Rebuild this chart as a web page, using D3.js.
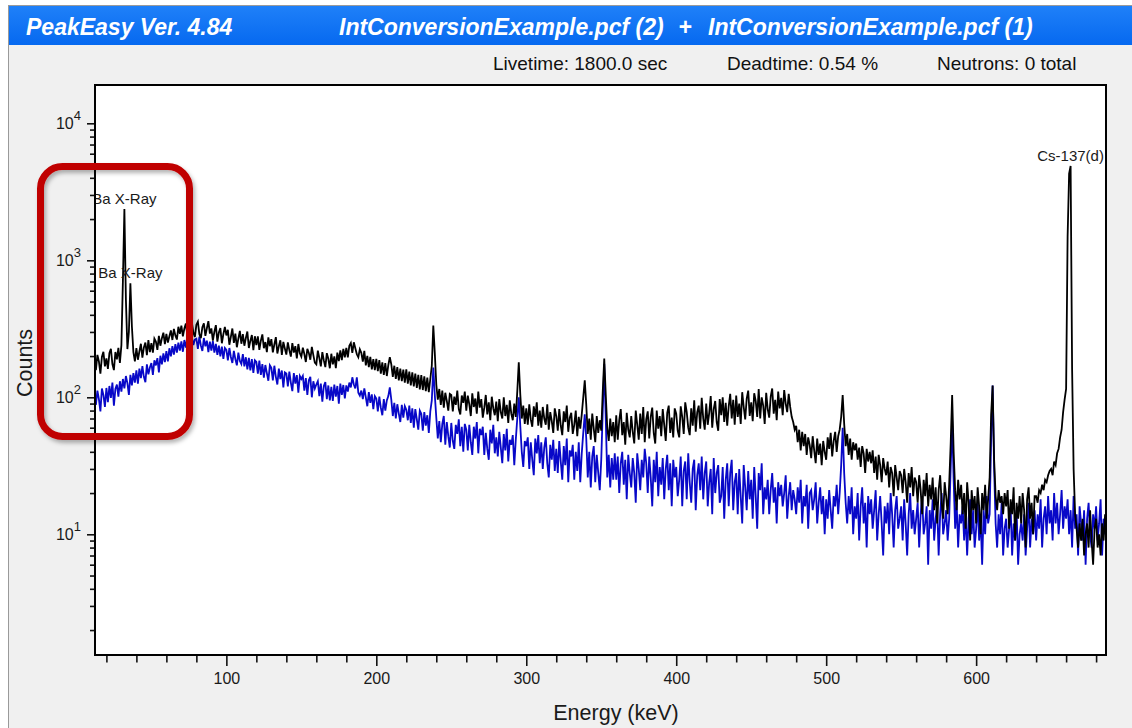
<!DOCTYPE html>
<html>
<head>
<meta charset="utf-8">
<script src="https://cdn.jsdelivr.net/npm/d3@7"></script>
<style>
  html, body { margin: 0; padding: 0; background: #ffffff; }
  svg { display: block; font-family: Arial, "Liberation Sans", sans-serif; }
</style>
</head>
<body>
<svg id="chart" width="1132" height="728"></svg>
<script>
// ---- Spectrum data: one value per 1 keV channel, first channel at 13 keV ----
const firstChannelKeV = 13;

// Spectrum (2): black trace
const blackCounts = [
  158, 204, 183, 149, 197, 215, 168,
  192, 161, 210, 226, 175, 158, 214, 189, 230, 178,
  240, 700, 2370, 520, 225, 300, 680, 330, 214, 183,
  229, 188, 216, 246, 195, 231, 251, 203, 262, 214,
  249, 212, 268, 255, 222, 281, 238, 270, 296, 244,
  290, 251, 279, 308, 262, 316, 283, 264, 327, 291,
  334, 279, 318, 345, 283, 266, 330, 352, 297, 276,
  338, 356, 289, 270, 325, 347, 281, 319, 360, 292,
  318, 259, 301, 336, 255, 297, 320, 248, 289, 327,
  283, 311, 242, 276, 318, 250, 292, 232, 268, 305,
  246, 289, 238, 271, 302, 229, 258, 285, 221, 279,
  240, 278, 222, 259, 288, 228, 253, 214, 274, 236,
  266, 213, 243, 275, 209, 236, 261, 204, 254, 227,
  205, 252, 221, 198, 249, 212, 236, 192, 245, 210,
  198, 230, 207, 181, 226, 211, 188, 233, 203, 179,
  174, 219, 193, 168, 214, 186, 166, 210, 191, 163,
  208, 174, 199, 163, 212, 184, 220, 187, 226, 196,
  229, 196, 238, 249, 211, 252, 228, 206, 196, 224,
  211, 182, 218, 171, 201, 166, 197, 160, 190, 158,
  191, 155, 187, 149, 180, 146, 178, 143, 172, 196,
  174, 141, 170, 136, 166, 133, 162, 131, 159, 128,
  160, 126, 154, 122, 152, 120, 149, 117, 146, 114,
  145, 113, 142, 111, 139, 109, 136, 170, 334, 210,
  124, 96, 115, 88, 112, 84, 108, 94, 80, 106,
  104, 79, 101, 88, 112, 82, 75, 103, 91, 110,
  80, 103, 89, 73, 107, 85, 98, 76, 110, 84,
  97, 71, 84, 104, 75, 92, 68, 101, 83, 74,
  93, 67, 97, 78, 70, 100, 73, 88, 65, 95,
  76, 68, 90, 72, 110, 180, 105, 70, 87, 64,
  83, 63, 89, 69, 61, 86, 72, 92, 62, 80,
  60, 85, 70, 63, 89, 58, 78, 67, 55, 83,
  73, 57, 82, 62, 53, 79, 66, 87, 56, 71,
  77, 54, 63, 80, 52, 72, 59, 75, 100, 133,
  88, 54, 70, 49, 76, 59, 47, 73, 55, 68,
  57, 110, 192, 105, 60, 48, 70, 52, 66, 47,
  74, 49, 68, 82, 53, 66, 45, 77, 58, 51,
  73, 56, 46, 80, 63, 49, 76, 54, 85, 47,
  69, 79, 50, 72, 84, 55, 46, 80, 59, 73,
  52, 82, 63, 48, 77, 87, 55, 71, 51, 83,
  76, 57, 51, 86, 72, 54, 92, 78, 60, 53,
  83, 62, 95, 56, 78, 87, 59, 99, 70, 58,
  90, 63, 77, 102, 60, 82, 94, 66, 57, 97,
  74, 100, 66, 91, 62, 86, 106, 70, 96, 63,
  103, 72, 90, 64, 109, 85, 69, 98, 112, 73,
  92, 67, 107, 94, 72, 115, 70, 100, 87, 64,
  108, 82, 71, 101, 116, 76, 96, 68, 110, 83,
  99, 74, 113, 90, 78, 106, 85, 72, 66, 58,
  62, 47, 58, 41, 56, 44, 54, 38, 51, 45,
  36, 52, 41, 33, 50, 38, 46, 32, 48, 40,
  35, 51, 42, 55, 37, 48, 56, 40, 52, 58,
  72, 104, 64, 44, 54, 38, 50, 35, 47, 41,
  46, 35, 43, 31, 44, 39, 28, 42, 34, 40,
  33, 41, 28, 37, 25, 38, 32, 24, 36, 30,
  27, 34, 22, 31, 28, 19, 32, 26, 21, 29,
  27, 20, 30, 24, 17, 28, 22, 31, 19, 26,
  24, 17, 27, 21, 14, 25, 19, 28, 16, 23,
  18, 26, 15, 22, 12, 21, 27, 17, 13, 24,
  19, 14, 23, 45, 104, 40, 21, 15, 25, 18,
  23, 14, 20, 11, 24, 17, 9, 21, 15, 19,
  12, 22, 16, 10, 20, 15, 23, 13, 18, 26,
  75, 122, 35, 19, 15, 21, 17, 19, 14, 20,
  16, 21, 11, 18, 14, 22, 9, 17, 13, 19,
  12, 20, 15, 8, 18, 22, 13, 17, 10, 19,
  19, 17, 21, 20, 23, 21, 25, 24, 27, 29,
  30, 27, 34, 32, 39, 42, 51, 58, 78, 96,
  115, 1500, 4300, 4880, 160, 30, 14, 11, 8, 12,
  9, 13, 7, 10, 12, 8, 15, 9, 6, 11,
  13, 8, 10, 7, 12, 9, 14
];

// Spectrum (1): blue trace
const blueCounts = [
  88, 112, 97, 79, 116, 104, 85,
  117, 92, 121, 99, 128, 87, 115, 124, 101, 131,
  110, 136, 116, 143, 127, 104, 146, 122, 150, 128,
  157, 126, 162, 138, 169, 141, 129, 174, 147, 165,
  178, 146, 186, 171, 193, 152, 201, 174, 209, 181,
  217, 183, 228, 199, 236, 205, 244, 212, 251, 219,
  256, 215, 262, 231, 271, 238, 219, 275, 241, 264,
  268, 226, 277, 239, 218, 271, 236, 259, 214, 255,
  219, 257, 212, 245, 204, 238, 199, 234, 191, 229,
  222, 186, 229, 197, 178, 218, 190, 171, 212, 184,
  175, 207, 168, 196, 160, 194, 157, 190, 151, 186,
  181, 149, 185, 146, 175, 139, 172, 150, 132, 171,
  164, 133, 170, 141, 124, 162, 136, 157, 118, 152,
  149, 120, 154, 128, 111, 150, 126, 145, 108, 143,
  136, 143, 112, 138, 104, 133, 141, 100, 131, 116,
  124, 131, 102, 126, 93, 121, 129, 97, 122, 95,
  119, 94, 124, 101, 121, 90, 126, 104, 123, 98,
  122, 110, 128, 118, 140, 124, 116, 140, 108, 103,
  112, 97, 116, 100, 86, 109, 91, 105, 82, 102,
  98, 79, 101, 84, 74, 97, 80, 95, 102, 118,
  96, 73, 91, 70, 89, 76, 66, 88, 71, 86,
  81, 68, 87, 65, 83, 60, 82, 69, 58, 80,
  76, 57, 78, 62, 74, 55, 79, 95, 165, 104,
  71, 50, 67, 47, 64, 73, 45, 66, 52, 43,
  65, 48, 42, 63, 54, 69, 44, 61, 40, 64,
  58, 41, 63, 47, 38, 61, 50, 66, 39, 59,
  53, 61, 38, 55, 42, 35, 58, 46, 63, 39,
  51, 37, 56, 43, 33, 54, 41, 59, 34, 49,
  45, 53, 32, 49, 70, 100, 62, 40, 31, 48,
  44, 51, 30, 47, 35, 27, 50, 39, 53, 33,
  47, 30, 43, 51, 33, 26, 45, 35, 49, 29,
  42, 28, 48, 34, 25, 44, 32, 50, 24, 41,
  37, 45, 25, 40, 29, 47, 24, 39, 55, 75,
  50, 26, 40, 22, 37, 44, 24, 38, 28, 21,
  35, 80, 175, 70, 26, 38, 22, 36, 25, 39,
  25, 37, 20, 33, 40, 23, 35, 18, 38, 28,
  22, 36, 28, 17, 39, 30, 21, 35, 26, 42,
  33, 20, 37, 26, 16, 35, 24, 40, 19, 31,
  23, 36, 18, 30, 38, 21, 33, 16, 35, 26,
  31, 19, 25, 37, 16, 29, 34, 18, 39, 24,
  17, 30, 35, 15, 27, 33, 21, 37, 18, 28,
  34, 16, 24, 30, 14, 36, 20, 28, 32, 17,
  19, 31, 13, 25, 33, 16, 28, 35, 15, 24,
  28, 14, 30, 19, 12, 32, 22, 15, 29, 18,
  25, 13, 31, 19, 11, 28, 21, 33, 14, 22,
  18, 25, 14, 21, 28, 17, 22, 12, 24, 19,
  23, 16, 20, 27, 13, 19, 24, 15, 21, 18,
  14, 22, 17, 25, 12, 19, 16, 23, 11, 20,
  21, 15, 18, 24, 12, 17, 22, 14, 19, 10,
  18, 13, 21, 15, 11, 19, 16, 23, 14, 20,
  32, 60, 28, 17, 12, 19, 14, 22, 10, 16,
  13, 20, 9, 16, 22, 12, 17, 8, 19, 14,
  18, 11, 15, 21, 9, 14, 19, 12, 7, 16,
  12, 17, 10, 20, 14, 8, 15, 19, 11, 13,
  16, 9, 18, 12, 7, 14, 20, 11, 15, 10,
  13, 17, 8, 14, 19, 10, 12, 16, 6, 15,
  11, 18, 9, 13, 16, 7, 14, 20, 10, 12,
  15, 9, 13, 30, 68, 25, 11, 17, 8, 14,
  12, 16, 9, 14, 7, 13, 18, 10, 15, 8,
  11, 17, 9, 13, 6, 15, 10, 19, 12, 14,
  50, 122, 30, 12, 8, 14, 10, 17, 7, 11,
  13, 8, 11, 16, 7, 12, 9, 15, 6, 10,
  12, 9, 14, 7, 11, 17, 8, 13, 10, 15,
  9, 14, 11, 18, 8, 13, 16, 10, 19, 12,
  15, 9, 20, 12, 17, 10, 14, 21, 11, 16,
  13, 18, 10, 15, 8, 19, 11, 14, 7, 16,
  12, 9, 15, 6, 13, 17, 10, 8, 14, 11,
  16, 9, 12, 18, 7, 13, 10
];

// Peak identification labels (energy in keV of the labelled channel)
const peakLabelTexts = ["Ba X-Ray", "Ba X-Ray", "Cs-137(d)"];
const peakLabelEnergies = [32, 36, 663];

// Axis ticks
const xMajorTicks = [100, 200, 300, 400, 500, 600];
const xMinorTicks = [20, 40, 60, 80, 120, 140, 160, 180, 220, 240, 260, 280, 320, 340, 360, 380,
                     420, 440, 460, 480, 520, 540, 560, 580, 620, 640, 660, 680];
const yMajorExponents = [1, 2, 3, 4];

// Header texts
const appTitle = "PeakEasy Ver. 4.84";
const fileTitles = ["IntConversionExample.pcf (2)", "+", "IntConversionExample.pcf (1)"];
const infoTexts = ["Livetime: 1800.0 sec", "Deadtime: 0.54 %", "Neutrons: 0 total"];

// ---- Layout ----
const W = 1132, H = 728;
const plot = { left: 95, right: 1106, top: 85, bottom: 655 };

const svg = d3.select("#chart");

// window frame and panel
svg.append("rect").attr("x", 8).attr("y", 5).attr("width", W - 8).attr("height", H - 5)
  .attr("fill", "#f0f0f0");
svg.append("line").attr("x1", 8).attr("x2", W).attr("y1", 5.5).attr("y2", 5.5)
  .attr("stroke", "#9a9a9a").attr("stroke-width", 1);
svg.append("line").attr("x1", 8.5).attr("x2", 8.5).attr("y1", 5).attr("y2", H)
  .attr("stroke", "#9a9a9a").attr("stroke-width", 1);

// title bar
const defs = svg.append("defs");
const grad = defs.append("linearGradient").attr("id", "titleGrad")
  .attr("x1", 0).attr("x2", 0).attr("y1", 0).attr("y2", 1);
grad.append("stop").attr("offset", "0%").attr("stop-color", "#1f80f8");
grad.append("stop").attr("offset", "100%").attr("stop-color", "#0669f0");
svg.append("rect").attr("x", 9).attr("y", 6).attr("width", W - 9).attr("height", 39)
  .attr("fill", "url(#titleGrad)");

const titleStyle = sel => sel.attr("fill", "#ffffff").attr("font-size", 23)
  .attr("font-weight", "bold").attr("font-style", "italic");
svg.append("text").attr("x", 26).attr("y", 35).text(appTitle).call(titleStyle);
svg.append("text").attr("x", 339).attr("y", 35).text(fileTitles[0]).call(titleStyle);
svg.append("text").attr("x", 685).attr("y", 35).attr("text-anchor", "middle").text(fileTitles[1]).call(titleStyle);
svg.append("text").attr("x", 708).attr("y", 35).text(fileTitles[2]).call(titleStyle);

// info line
const infoX = [493, 727, 937];
infoTexts.forEach((t, i) => {
  svg.append("text").attr("x", infoX[i]).attr("y", 70).attr("font-size", 19)
    .attr("fill", "#111").text(t);
});

// ---- Scales ----
const x = d3.scaleLinear().domain([12.4, 686.6]).range([plot.left, plot.right]);
const y = d3.scaleLog().domain([1.315, 19040]).range([plot.bottom, plot.top]);

// plot background
svg.append("rect").attr("x", plot.left).attr("y", plot.top)
  .attr("width", plot.right - plot.left).attr("height", plot.bottom - plot.top)
  .attr("fill", "#ffffff");

defs.append("clipPath").attr("id", "plotClip").append("rect")
  .attr("x", plot.left).attr("y", plot.top)
  .attr("width", plot.right - plot.left).attr("height", plot.bottom - plot.top);

const toPoints = arr => arr.map((c, i) => ({ e: firstChannelKeV + i, c }));
const blackData = toPoints(blackCounts);
const blueData = toPoints(blueCounts);

const line = d3.line().x(d => x(d.e)).y(d => y(d.c));

const traces = svg.append("g").attr("clip-path", "url(#plotClip)");
traces.append("path").datum(blueData).attr("d", line)
  .attr("fill", "none").attr("stroke", "#0808c8").attr("stroke-width", 1.8)
  .attr("stroke-linejoin", "miter");
traces.append("path").datum(blackData).attr("d", line)
  .attr("fill", "none").attr("stroke", "#000000").attr("stroke-width", 1.8)
  .attr("stroke-linejoin", "miter");

// peak labels
peakLabelTexts.forEach((t, i) => {
  const e = peakLabelEnergies[i];
  const c = blackCounts[e - firstChannelKeV];
  traces.append("text").attr("x", x(e)).attr("y", y(c) - 5)
    .attr("text-anchor", "middle").attr("font-size", 15).attr("fill", "#1a1a1a").text(t);
});

// ---- Axes ----
const axisColor = "#111";
const xAxisMajor = svg.append("g").attr("transform", `translate(0,${plot.bottom})`)
  .call(d3.axisBottom(x).tickValues(xMajorTicks).tickSize(11).tickPadding(6).tickFormat(d3.format("d")));
const xAxisMinor = svg.append("g").attr("transform", `translate(0,${plot.bottom})`)
  .call(d3.axisBottom(x).tickValues(xMinorTicks).tickSize(7.5).tickFormat(""));

const yMinorTicks = [];
yMajorExponents.concat([0]).forEach(k => {
  for (let m = 2; m <= 9; m++) {
    const v = m * Math.pow(10, k);
    if (v > y.domain()[0] && v < y.domain()[1]) yMinorTicks.push(v);
  }
});
const yMajorTicks = yMajorExponents.map(k => Math.pow(10, k));
const yAxisMajor = svg.append("g").attr("transform", `translate(${plot.left},0)`)
  .call(d3.axisLeft(y).tickValues(yMajorTicks).tickSize(8).tickFormat(""));
const yAxisMinor = svg.append("g").attr("transform", `translate(${plot.left},0)`)
  .call(d3.axisLeft(y).tickValues(yMinorTicks).tickSize(5).tickFormat(""));

[xAxisMajor, xAxisMinor, yAxisMajor, yAxisMinor].forEach(g => {
  g.select(".domain").remove();
  g.selectAll(".tick line").attr("stroke", axisColor).attr("stroke-width", 1.6);
  g.selectAll(".tick text").attr("fill", "#1a1a1a").attr("font-size", 16)
    .attr("font-family", "Arial, 'Liberation Sans', sans-serif");
});
xAxisMajor.selectAll(".tick text").attr("dy", null).attr("y", 29);

// y tick labels as powers of ten
yMajorExponents.forEach(k => {
  const t = svg.append("text").attr("x", 81).attr("y", y(Math.pow(10, k)) + 5.5)
    .attr("text-anchor", "end").attr("fill", "#1a1a1a").attr("font-size", 16);
  t.append("tspan").text("10");
  t.append("tspan").attr("dy", -9).attr("font-size", 13).text(String(k));
});

// plot frame
svg.append("rect").attr("x", plot.left).attr("y", plot.top)
  .attr("width", plot.right - plot.left).attr("height", plot.bottom - plot.top)
  .attr("fill", "none").attr("stroke", "#000").attr("stroke-width", 2);

// axis titles
svg.append("text").attr("x", 616).attr("y", 720).attr("text-anchor", "middle")
  .attr("font-size", 21.5).attr("fill", "#1a1a1a").text("Energy (keV)");
svg.append("text").attr("transform", "translate(31.5,363) rotate(-90)")
  .attr("text-anchor", "middle").attr("font-size", 21.5).attr("fill", "#1a1a1a").text("Counts");

// highlight box around the low-energy region
const shadow = defs.append("filter").attr("id", "boxShadow")
  .attr("x", "-10%").attr("y", "-10%").attr("width", "130%").attr("height", "130%");
shadow.append("feDropShadow").attr("dx", 2).attr("dy", 3).attr("stdDeviation", 2)
  .attr("flood-color", "#000").attr("flood-opacity", 0.3);
svg.append("rect").attr("x", 40.5).attr("y", 166.5).attr("width", 149).attr("height", 270)
  .attr("rx", 22).attr("ry", 22).attr("fill", "none")
  .attr("stroke", "#c00000").attr("stroke-width", 7).attr("filter", "url(#boxShadow)");
</script>
</body>
</html>
